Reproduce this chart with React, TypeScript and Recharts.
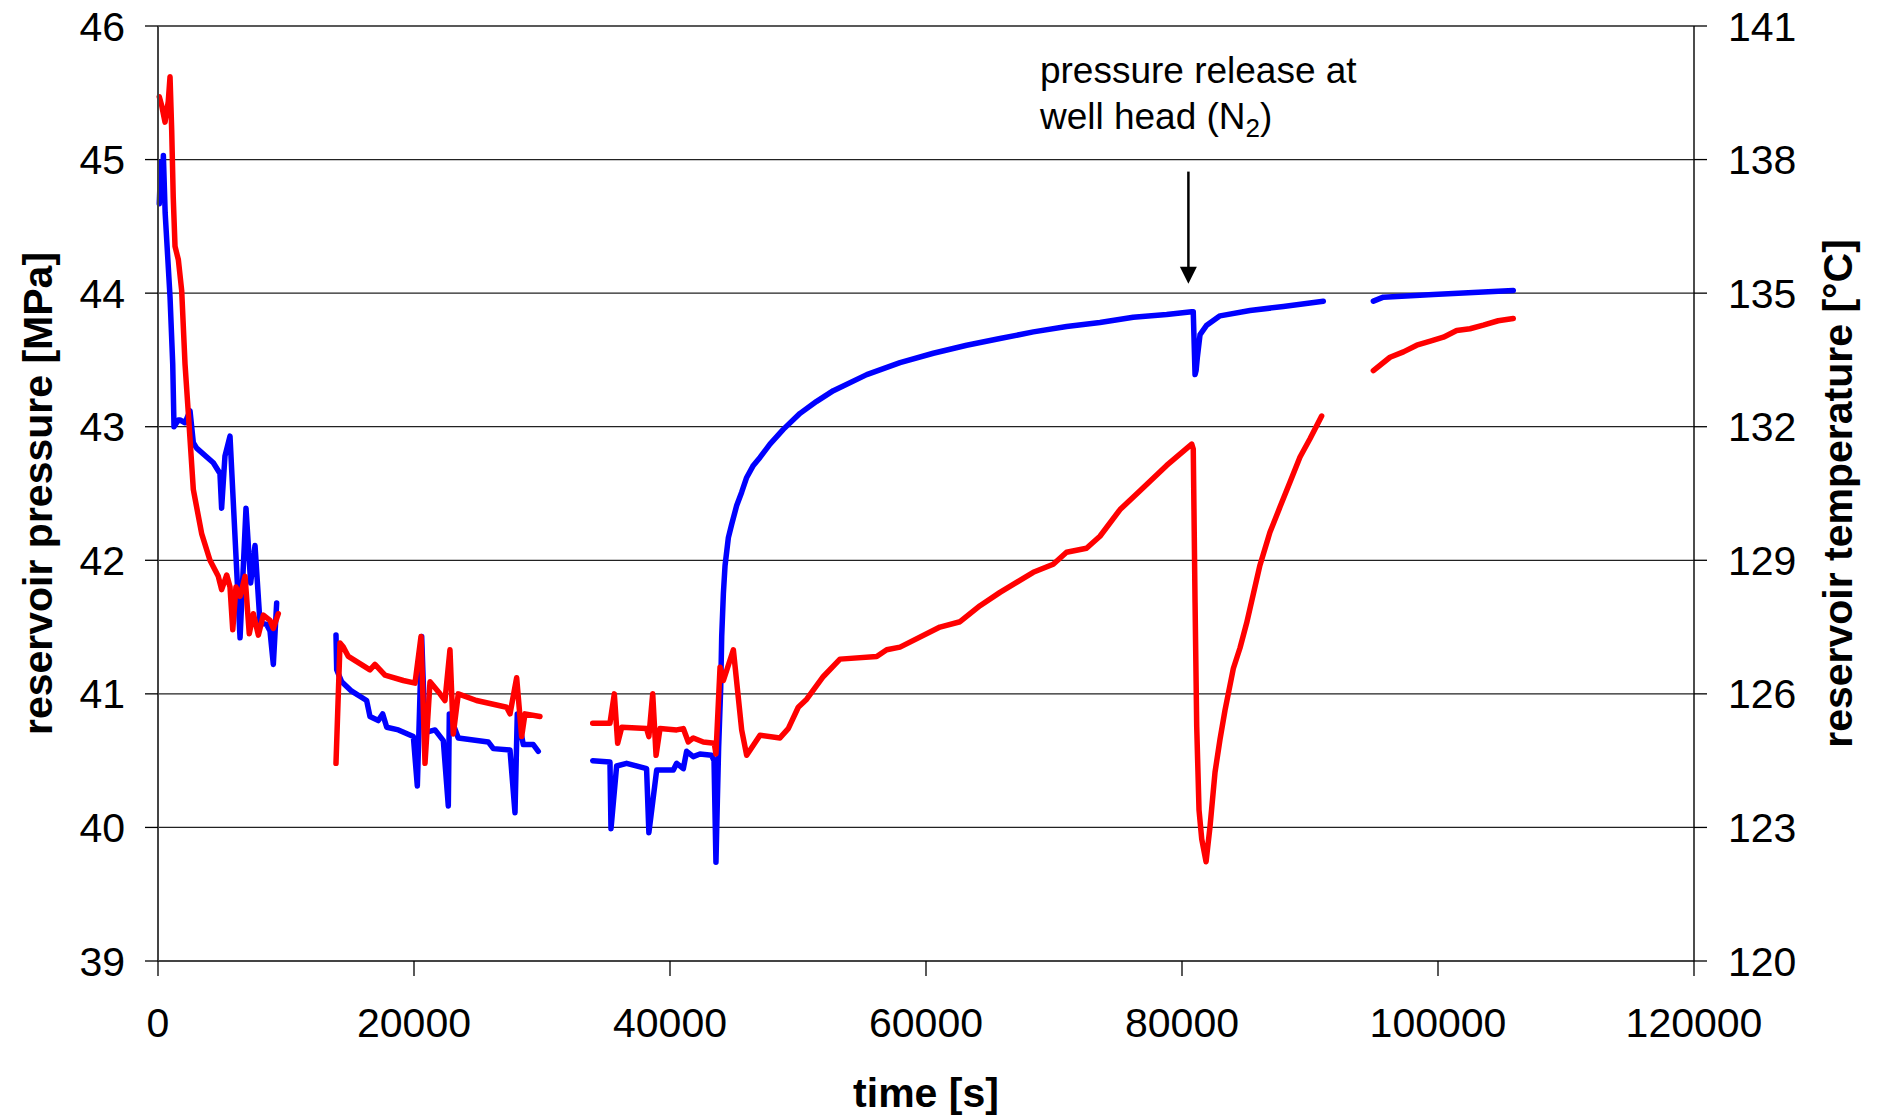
import React from "react";
import {
  ComposedChart,
  Line,
  XAxis,
  YAxis,
  CartesianGrid,
  ReferenceLine,
  ReferenceDot,
} from "recharts";

const FONT = "'Liberation Sans', Arial, Helvetica, sans-serif";

// time [s] / reservoir pressure [MPa], one array per logging run
const pressureRun1 = [
  [100, 44.67], [220, 44.98], [320, 44.72], [420, 45.03], [560, 44.6],
  [940, 43.97], [1150, 43.47], [1250, 43.0], [1590, 43.05], [1720, 43.05],
  [2110, 43.03], [2500, 43.12], [2760, 42.88], [3020, 42.84], [4320, 42.73],
  [4840, 42.65], [4970, 42.39], [5230, 42.78], [5625, 42.93], [6410, 41.42],
  [6875, 42.39], [7240, 41.83], [7580, 42.11], [7970, 41.53], [8490, 41.52],
  [8750, 41.47], [9010, 41.22], [9270, 41.68],
];
const pressureRun2 = [
  [13906, 41.44], [13960, 41.18], [14350, 41.09], [15130, 41.02], [16300, 40.95],
  [16560, 40.83], [17210, 40.8], [17550, 40.85], [17870, 40.75], [18780, 40.73],
  [19950, 40.68], [20260, 40.31], [20600, 41.43], [20860, 40.71], [21640, 40.73],
  [22290, 40.65], [22680, 40.16], [22760, 40.85], [23460, 40.67], [25800, 40.64],
  [26200, 40.59], [27500, 40.58], [27890, 40.11], [28070, 40.85], [28540, 40.62],
  [29320, 40.62], [29710, 40.57],
];
const pressureRun3 = [
  [33960, 40.5], [35310, 40.49], [35390, 39.99], [35830, 40.46], [36610, 40.48],
  [38170, 40.44], [38350, 39.96], [38960, 40.43], [40260, 40.43], [40520, 40.48],
  [41040, 40.44], [41300, 40.57], [41820, 40.53], [42340, 40.55], [43250, 40.54],
  [43440, 40.5], [43590, 39.74], [43700, 40.2], [43800, 40.6], [43960, 41.04],
  [44040, 41.43], [44170, 41.75], [44300, 41.96], [44560, 42.17], [44820, 42.27],
  [45210, 42.41], [45600, 42.51], [45990, 42.62], [46510, 42.71], [47030, 42.77],
  [47810, 42.87], [48850, 42.98], [50160, 43.1], [51460, 43.19], [52760, 43.27],
  [55370, 43.39], [57970, 43.48], [60570, 43.55], [63180, 43.61], [65780, 43.66],
  [68390, 43.71], [70990, 43.75], [73590, 43.78], [76190, 43.82], [78800, 43.84],
  [80760, 43.86], [80880, 43.86], [81020, 43.39], [81100, 43.42], [81200, 43.52],
  [81410, 43.69], [81930, 43.76], [82970, 43.83], [85310, 43.87], [87920, 43.9],
  [91040, 43.94],
];
const pressureRun4 = [
  [94950, 43.94], [95730, 43.97], [99640, 43.99], [105880, 44.02],
];

// time [s] / reservoir temperature [°C]
const temperatureRun1 = [
  [100, 139.41], [300, 139.2], [550, 138.84], [800, 139.3], [940, 139.86],
  [1070, 138.66], [1190, 137.16], [1330, 136.05], [1590, 135.75], [1850, 135.06],
  [2110, 133.41], [2370, 132.3], [2760, 130.59], [3410, 129.6], [4060, 129.0],
  [4710, 128.64], [4970, 128.34], [5370, 128.67], [5625, 128.4], [5840, 127.44],
  [6090, 128.4], [6410, 128.19], [6800, 128.64], [7130, 127.35], [7450, 127.8],
  [7840, 127.32], [8230, 127.77], [8750, 127.65], [9010, 127.47], [9400, 127.8],
];
const temperatureRun2 = [
  [13906, 124.44], [14220, 127.14], [14480, 127.05], [14870, 126.84], [16560, 126.54],
  [16950, 126.66], [17730, 126.42], [19160, 126.3], [20080, 126.24], [20550, 127.29],
  [20860, 124.44], [21250, 126.27], [22030, 126.0], [22420, 125.85], [22810, 126.99],
  [23070, 125.1], [23460, 126.0], [24880, 125.85], [27240, 125.7], [27500, 125.55],
  [28020, 126.36], [28410, 125.04], [28670, 125.55], [29840, 125.49],
];
const temperatureRun3 = [
  [33960, 125.34], [35310, 125.34], [35650, 126.0], [35910, 124.89], [36230, 125.25],
  [38170, 125.22], [38350, 125.04], [38650, 126.0], [38910, 124.62], [39220, 125.22],
  [40520, 125.19], [41040, 125.22], [41430, 124.92], [41820, 125.01], [42600, 124.92],
  [43460, 124.89], [43590, 124.65], [43910, 126.6], [44170, 126.3], [44950, 126.99],
  [45600, 125.19], [45990, 124.62], [47030, 125.07], [48590, 125.01], [49240, 125.22],
  [50020, 125.7], [50680, 125.88], [51980, 126.39], [53280, 126.78], [56150, 126.84],
  [56930, 126.99], [57970, 127.05], [61090, 127.5], [62660, 127.62], [64220, 127.98],
  [65780, 128.28], [68380, 128.73], [69940, 128.91], [70980, 129.18], [72540, 129.27],
  [73590, 129.54], [75160, 130.14], [76720, 130.56], [78800, 131.13], [80760, 131.61],
  [80880, 131.5], [81020, 128.05], [81150, 125.26], [81330, 123.39], [81540, 122.74],
  [81880, 122.23], [82190, 123.02], [82580, 124.24], [82970, 124.98], [83360, 125.63],
  [84010, 126.57], [84530, 127.03], [85050, 127.59], [85570, 128.24], [86090, 128.89],
  [86870, 129.63], [87660, 130.2], [88440, 130.76], [89220, 131.32], [90000, 131.73],
  [90910, 132.24],
];
const temperatureRun4 = [
  [94950, 133.26], [96250, 133.56], [97300, 133.68], [98340, 133.83], [99400, 133.92],
  [100420, 134.01], [101460, 134.16], [102500, 134.2], [103540, 134.28], [104700, 134.38],
  [105880, 134.43],
];

const timeTicks = [0, 20000, 40000, 60000, 80000, 100000, 120000];
const pressureTicks = [39, 40, 41, 42, 43, 44, 45, 46];
const temperatureTicks = [120, 123, 126, 129, 132, 135, 138, 141];

// nitrogen release at the well head
const releaseTime = 80500;
const arrowTop = 44.91;
const arrowTip = 44.07;
const noteTime = 68900;
const notePressure = 45.573;

type Pt = { t: number; v: number | null };

// a null entry between runs breaks the line
const joinRuns = (runs: number[][][]): Pt[] =>
  runs.flatMap((run, i) => {
    const pts = run.map(([t, v]) => ({ t, v }));
    return i === 0 ? pts : [{ t: run[0][0], v: null }, ...pts];
  });

const pressureData = joinRuns([pressureRun1, pressureRun2, pressureRun3, pressureRun4]);
const temperatureData = joinRuns([temperatureRun1, temperatureRun2, temperatureRun3, temperatureRun4]);

const tickStyle = { fontSize: 41, fontFamily: FONT, fill: "#000" };
const titleStyle = { fontSize: 41, fontFamily: FONT, fontWeight: 700, fill: "#000" };

const PressureTitle = (props: any) => {
  const vb = props.viewBox || { x: 58, y: 26, width: 100, height: 935 };
  const x = vb.x - 6;
  const y = vb.y + vb.height / 2;
  return (
    <text x={x} y={y} transform={`rotate(-90, ${x}, ${y})`} textAnchor="middle" style={titleStyle}>
      reservoir pressure [MPa]
    </text>
  );
};

const TemperatureTitle = (props: any) => {
  const vb = props.viewBox || { x: 1694, y: 26, width: 100, height: 935 };
  const x = vb.x + vb.width + 58;
  const y = vb.y + vb.height / 2;
  return (
    <text x={x} y={y} transform={`rotate(-90, ${x}, ${y})`} textAnchor="middle" style={titleStyle}>
      reservoir temperature [°C]
    </text>
  );
};

const TimeTitle = (props: any) => {
  const vb = props.viewBox || { x: 158, y: 961, width: 1536, height: 80 };
  return (
    <text x={vb.x + vb.width / 2} y={vb.y + 146} textAnchor="middle" style={titleStyle}>
      time [s]
    </text>
  );
};

const ArrowHead = ({ cx, cy }: any) => (
  <polygon
    points={`${cx - 8.5},${cy - 17} ${cx + 8.5},${cy - 17} ${cx},${cy}`}
    fill="#000"
  />
);

const ReleaseNote = ({ cx, cy }: any) => (
  <text x={cx} y={cy} fontSize={37} fontFamily={FONT} fill="#000">
    <tspan x={cx}>pressure release at</tspan>
    <tspan x={cx} dy={46}>well head (N</tspan>
    <tspan dy={8} fontSize={26}>2</tspan>
    <tspan dy={-8}>)</tspan>
  </text>
);

export default function App() {
  return (
    <div style={{ position: "absolute", left: 0, top: 0, background: "#fff" }}>
      <ComposedChart
        width={1877}
        height={1120}
        margin={{ top: 26, right: 83, bottom: 79, left: 58 }}
      >
        <CartesianGrid
          yAxisId="p"
          vertical={false}
          stroke="#222"
          strokeWidth={1.3}
        />
        <XAxis
          dataKey="t"
          type="number"
          domain={[0, 120000]}
          ticks={timeTicks}
          interval={0}
          height={80}
          tickSize={15}
          tickMargin={32}
          tick={tickStyle}
          tickLine={{ stroke: "#000", strokeWidth: 1.3 }}
          axisLine={{ stroke: "#444", strokeWidth: 2 }}
          label={TimeTitle}
        />
        <YAxis
          yAxisId="p"
          orientation="left"
          domain={[39, 46]}
          ticks={pressureTicks}
          interval={0}
          width={100}
          tickSize={13}
          tickMargin={20}
          tick={tickStyle}
          tickLine={{ stroke: "#000", strokeWidth: 1.3 }}
          axisLine={{ stroke: "#444", strokeWidth: 2 }}
          label={PressureTitle}
        />
        <YAxis
          yAxisId="t"
          orientation="right"
          domain={[120, 141]}
          ticks={temperatureTicks}
          interval={0}
          width={100}
          tickSize={13}
          tickMargin={21}
          tick={tickStyle}
          tickLine={{ stroke: "#000", strokeWidth: 1.3 }}
          axisLine={{ stroke: "#111", strokeWidth: 1.5 }}
          label={TemperatureTitle}
        />
        <Line
          yAxisId="p"
          data={pressureData}
          dataKey="v"
          type="linear"
          stroke="#0000FF"
          strokeWidth={5.5}
          strokeLinejoin="round"
          strokeLinecap="round"
          dot={false}
          activeDot={false}
          connectNulls={false}
          isAnimationActive={false}
        />
        <Line
          yAxisId="t"
          data={temperatureData}
          dataKey="v"
          type="linear"
          stroke="#FF0000"
          strokeWidth={5.5}
          strokeLinejoin="round"
          strokeLinecap="round"
          dot={false}
          activeDot={false}
          connectNulls={false}
          isAnimationActive={false}
        />
        <ReferenceLine
          yAxisId="p"
          segment={[
            { x: releaseTime, y: arrowTop },
            { x: releaseTime, y: arrowTip + 0.08 },
          ]}
          stroke="#000"
          strokeWidth={2.5}
        />
        <ReferenceDot
          yAxisId="p"
          x={releaseTime}
          y={arrowTip}
          shape={ArrowHead}
        />
        <ReferenceDot
          yAxisId="p"
          x={noteTime}
          y={notePressure}
          shape={ReleaseNote}
        />
      </ComposedChart>
    </div>
  );
}
